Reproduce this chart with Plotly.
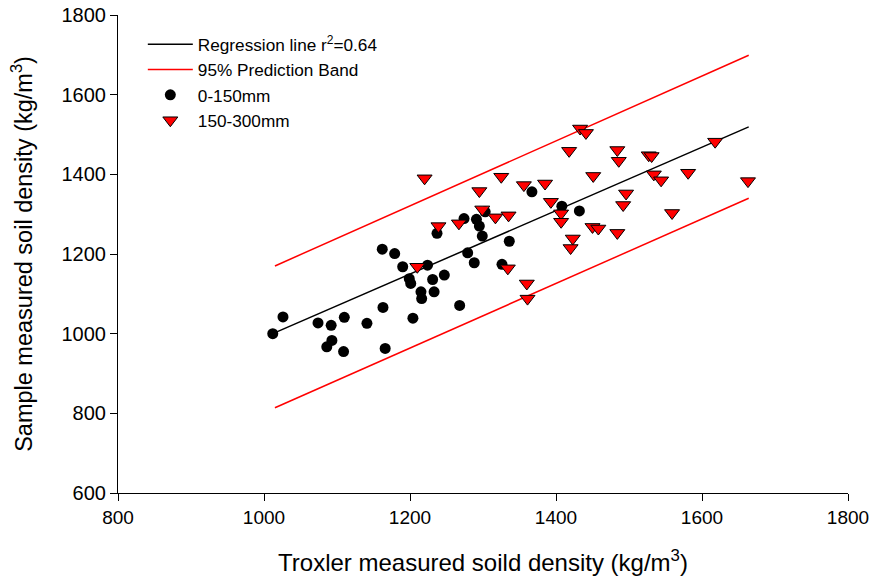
import plotly.graph_objects as go

# ---- data ----
shallow_x = [1012, 1026, 1074, 1092, 1110, 1141, 1163, 1204, 1093, 1086, 1109, 1166,
             1162, 1179, 1190, 1199, 1201, 1215, 1216, 1367, 1408, 1432, 1237, 1274,
             1291, 1295, 1299, 1303, 1336, 1279, 1288, 1326, 1224, 1231, 1247, 1233, 1268]
shallow_y = [1000, 1042, 1027, 1021, 1041, 1026, 1066, 1039, 983, 967, 955, 963,
             1212, 1201, 1168, 1138, 1126, 1105, 1088, 1356, 1320, 1308, 1252, 1289,
             1287, 1270, 1245, 1306, 1232, 1203, 1178, 1174, 1172, 1136, 1147, 1105, 1071]

deep_x = [1220, 1325, 1295, 1299, 1267, 1239, 1317, 1335, 1356, 1385, 1393, 1407, 1407,
          1418, 1433, 1441, 1451, 1450, 1458, 1423, 1420, 1210, 1334, 1360, 1361,
          1484, 1486, 1527, 1531, 1581, 1534, 1544, 1618, 1663, 1496, 1492, 1559, 1484]
deep_y = [1390, 1394, 1358, 1312, 1277, 1270, 1292, 1297, 1373, 1377, 1331, 1302, 1281,
          1459, 1515, 1504, 1396, 1268, 1264, 1239, 1215, 1168, 1164, 1126, 1088,
          1461, 1434, 1448, 1446, 1404, 1400, 1385, 1482, 1383, 1352, 1323, 1303, 1253]

reg_x = [1012, 1664]
reg_y = [1000, 1519]
band_x = [1015, 1664]
band_upper = [1170, 1699]
band_lower = [814, 1340]

x_ticks = [800, 1000, 1200, 1400, 1600, 1800]
y_ticks = [600, 800, 1000, 1200, 1400, 1600, 1800]

FONT = "Liberation Sans, Arial, sans-serif"

fig = go.Figure()
fig.add_trace(go.Scatter(x=reg_x, y=reg_y, mode="lines",
                         line=dict(color="black", width=1.5),
                         name="Regression line r<sup>2</sup>=0.64"))
fig.add_trace(go.Scatter(x=band_x, y=band_upper, mode="lines",
                         line=dict(color="#ff0000", width=1.5),
                         name="95% Prediction Band", legendgroup="band"))
fig.add_trace(go.Scatter(x=band_x, y=band_lower, mode="lines",
                         line=dict(color="#ff0000", width=1.5),
                         name="95% Prediction Band", legendgroup="band", showlegend=False))
fig.add_trace(go.Scatter(x=shallow_x, y=shallow_y, mode="markers",
                         marker=dict(symbol="circle", size=11, color="black",
                                     line=dict(color="black", width=0)),
                         name="0-150mm"))
fig.add_trace(go.Scatter(x=deep_x, y=deep_y, mode="markers",
                         marker=dict(symbol="triangle-down", size=13, color="#ff0000",
                                     line=dict(color="black", width=1)),
                         name="150-300mm"))

fig.update_layout(
    width=869, height=581,
    paper_bgcolor="white", plot_bgcolor="white",
    margin=dict(l=118, r=21, t=15, b=88),
    font=dict(family=FONT, size=20, color="black"),
    showlegend=True,
    legend=dict(x=0.034, y=0.976, xanchor="left", yanchor="top",
                bgcolor="rgba(0,0,0,0)", font=dict(family=FONT, size=17.2),
                tracegroupgap=0, itemwidth=45),
)
fig.update_xaxes(range=[800, 1800], tickvals=x_ticks, ticktext=[str(v) for v in x_ticks],
                 showline=True, linecolor="black", linewidth=1.2, mirror=False,
                 ticks="outside", ticklen=7, tickcolor="black", showgrid=False, zeroline=False,
                 automargin=False, ticklabeloverflow="allow",
                 tickfont=dict(family=FONT, size=19),
                 title=dict(text="Troxler measured soild density (kg/m<sup>3</sup>)",
                            font=dict(family=FONT, size=24), standoff=27))
fig.update_yaxes(range=[600, 1800], tickvals=y_ticks, ticktext=[str(v) for v in y_ticks],
                 showline=True, linecolor="black", linewidth=1.2, mirror=False,
                 ticks="outside", ticklen=7, tickcolor="black", showgrid=False, zeroline=False,
                 automargin=False, ticklabeloverflow="allow",
                 tickfont=dict(family=FONT, size=20),
                 title=dict(text="Sample measured soil density (kg/m<sup>3</sup>)",
                            font=dict(family=FONT, size=23.5), standoff=22))

# remove the browser's default 8px body margin so the figure fills the window exactly
fig.write_html("out.html", config={"displayModeBar": False},
               post_script="document.body.style.margin='0';")
